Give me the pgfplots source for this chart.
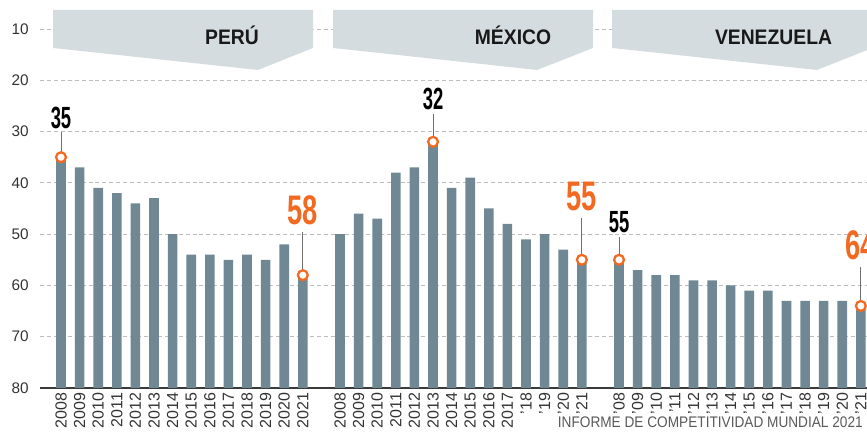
\documentclass[border=0pt]{standalone}
\usepackage{pgfplots}
\pgfplotsset{compat=1.18}
\usepackage{pgfplotstable}
\usepackage{fontspec}
\setmainfont{Liberation Sans}
\newfontfamily\blackfont{Liberation Sans}[FakeStretch=0.6]
\newfontfamily\orangefont{Liberation Sans}[FakeStretch=0.66]
\newfontfamily\bannerfont{Liberation Sans}[FakeStretch=0.92]
\newfontfamily\srcfont{Liberation Sans}[FakeStretch=0.89]
\definecolor{barc}{HTML}{6F8893}
\definecolor{orng}{HTML}{F26A21}
\definecolor{bann}{HTML}{D5DCDF}
\definecolor{gridc}{HTML}{BDBDBD}
\definecolor{axisc}{HTML}{3A3A3A}
\definecolor{txt}{HTML}{333333}
\definecolor{leadc}{HTML}{707070}

\pgfplotstableread{
x v
0 35
1 37
2 41
3 42
4 44
5 43
6 50
7 54
8 54
9 55
10 54
11 55
12 52
13 58
15 50
16 46
17 47
18 38
19 37
20 32
21 41
22 39
23 45
24 48
25 51
26 50
27 53
28 55
30 55
31 57
32 58
33 58
34 59
35 59
36 60
37 61
38 61
39 63
40 63
41 63
42 63
43 64
}\ranks

\begin{document}
\begin{tikzpicture}
\useasboundingbox (0,0) rectangle (650.25pt,325.5pt);
\begin{axis}[
  at={(30pt,34.5pt)}, anchor=south west,
  scale only axis, width=620.25pt, height=291pt,
  xmin=-1.129, xmax=43.33, ymin=0, ymax=75.65,
  clip=false,
  axis x line*=bottom, axis y line*=left,
  x axis line style={draw=axisc, line width=1.1pt, -},
  y axis line style={draw=none},
  major tick length=0pt,
  ytick={0,10,20,30,40,50,60,70},
  yticklabels={80,70,60,50,40,30,20,10},
  yticklabel style={font=\fontsize{11.5}{12}\selectfont, text=txt, xshift=-5pt},
  xtick={0,1,2,3,4,5,6,7,8,9,10,11,12,13,15,16,17,18,19,20,21,22,23,24,25,26,27,28,30,31,32,33,34,35,36,37,38,39,40,41,42,43},
  xticklabels={2008,2009,2010,2011,2012,2013,2014,2015,2016,2017,2018,2019,2020,2021,
               2008,2009,2010,2011,2012,2013,2014,2015,2016,2017,'18,'19,'20,'21,
               '08,'09,'10,'11,'12,'13,'14,'15,'16,'17,'18,'19,'20,'21},
  xticklabel style={rotate=90, anchor=east, font=\fontsize{12}{12}\selectfont, text=txt},
  ymajorgrids, xmajorgrids=false,
  grid style={gridc, line width=0.6pt, dash pattern=on 3pt off 2.2pt},
]
\addplot[ybar, bar width=7.2pt, fill=barc, draw=none] table[x=x, y expr=80-\thisrow{v}] {\ranks};
% leader lines
\addplot[leadc, line width=0.6pt, forget plot] coordinates {(0,45) (0,49.9)};
\addplot[leadc, line width=0.6pt, forget plot] coordinates {(13,22) (13,30.4)};
\addplot[leadc, line width=0.6pt, forget plot] coordinates {(20,48) (20,53.4)};
\addplot[leadc, line width=0.6pt, forget plot] coordinates {(28,25) (28,33.15)};
\addplot[leadc, line width=0.6pt, forget plot] coordinates {(30,25) (30,29.45)};
\addplot[leadc, line width=0.6pt, forget plot] coordinates {(43,16) (43,23.6)};
% highlighted points
\addplot[only marks, mark=*, mark size=3.7pt, mark options={fill=white, draw=orng, line width=1.7pt}]
  table[x=x, y expr=80-\thisrow{v}] {
x v
0 35
13 58
20 32
28 55
30 55
43 64
};
\node[inner sep=0pt, font=\blackfont\bfseries\fontsize{23}{23}\selectfont] at (axis cs:0,52.65) {35};
\node[inner sep=0pt, font=\blackfont\bfseries\fontsize{23}{23}\selectfont] at (axis cs:20,56.35) {32};
\node[inner sep=0pt, font=\blackfont\bfseries\fontsize{23}{23}\selectfont] at (axis cs:30,32.4) {55};
\node[inner sep=0pt, text=orng, font=\orangefont\bfseries\fontsize{31}{31}\selectfont] at (axis cs:13,34.7) {58};
\node[inner sep=0pt, text=orng, font=\orangefont\bfseries\fontsize{31}{31}\selectfont] at (axis cs:28,37.25) {55};
\node[inner sep=0pt, text=orng, font=\orangefont\bfseries\fontsize{31}{31}\selectfont] at (axis cs:43,27.9) {64};
\end{axis}
\begin{scope}[x=0.75pt, y=-0.75pt, yshift=325.5pt]
  \fill[bann] (53,10) -- (313,10) -- (313,48) -- (258,70) -- (53,48) -- cycle;
  \fill[bann] (333,10) -- (593,10) -- (593,48) -- (537,70) -- (333,48) -- cycle;
  \fill[bann] (612,10) -- (880,10) -- (880,45) -- (817,70) -- (612,48) -- cycle;
  \node[anchor=base, inner sep=0pt, text=black!90, font=\bannerfont\bfseries\fontsize{15.75}{16}\selectfont] at (232,44.5) {PERÚ};
  \node[anchor=base, inner sep=0pt, text=black!90, font=\bannerfont\bfseries\fontsize{15.75}{16}\selectfont] at (513,44.5) {MÉXICO};
  \node[anchor=base, inner sep=0pt, text=black!90, font=\bannerfont\bfseries\fontsize{15.75}{16}\selectfont] at (773.5,44.5) {VENEZUELA};
  \node[anchor=base east, inner sep=0pt, text=black!65, font=\srcfont\fontsize{11.5}{12}\selectfont] at (863,428) {INFORME DE COMPETITIVIDAD MUNDIAL 2021};
\end{scope}
\end{tikzpicture}
\end{document}
